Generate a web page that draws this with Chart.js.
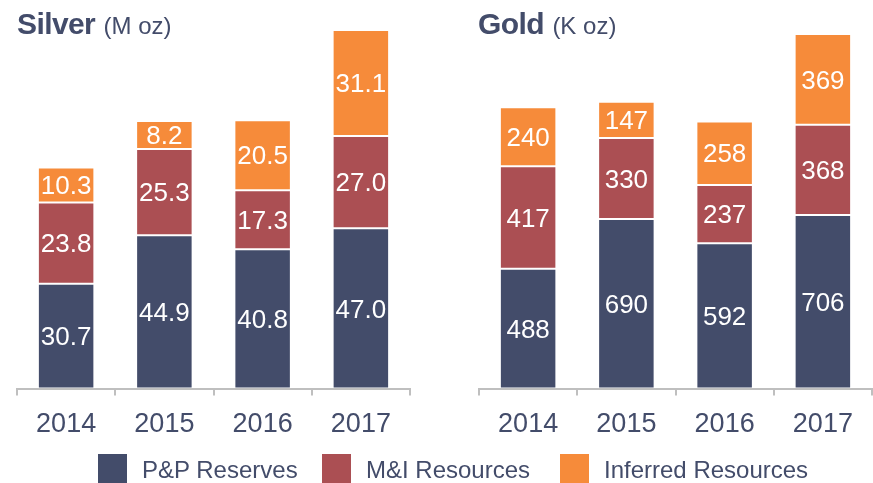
<!DOCTYPE html>
<html>
<head>
<meta charset="utf-8">
<script src="https://cdn.jsdelivr.net/npm/chart.js@4"></script>
<style>
    body { margin: 0; width: 873px; height: 483px; background: #fff; position: relative; overflow: hidden; font-family: "Liberation Sans", Arial, sans-serif; color: #434C6A; }
    .box { position: absolute; top: 0; height: 462px; }
    .title { position: absolute; top: 7px; white-space: nowrap; }
    .title b { font-size: 30px; letter-spacing: -0.6px; }
    .title span { font-size: 24px; margin-left: 4px; }
    .leg { position: absolute; top: 454px; height: 29px; font-size: 24px; line-height: 29px; white-space: nowrap; }
    .leg i { position: absolute; left: 0; top: 0; width: 29px; height: 29px; }
    .leg span { position: absolute; left: 44px; top: 1px; }
</style>
</head>
<body>
<div class="box" style="left:0;width:430px"><canvas id="SilverChart"></canvas></div>
<div class="box" style="left:440px;width:433px"><canvas id="GoldChart"></canvas></div>
<div class="title" style="left:17px"><b>Silver</b> <span>(M oz)</span></div>
<div class="title" style="left:478px"><b>Gold</b> <span>(K oz)</span></div>
<div id="Legend"></div>

<script>
const years = ["2014", "2015", "2016", "2017"];
const seriesNames = ["P&P Reserves", "M&I Resources", "Inferred Resources"];
const seriesColors = ["#434C6A", "#AB4F53", "#F68B3A"];

const silverPP = [30.7, 44.9, 40.8, 47.0];
const silverMI = [23.8, 25.3, 17.3, 27.0];
const silverInf = [10.3, 8.2, 20.5, 31.1];

const goldPP = [488, 690, 592, 706];
const goldMI = [417, 330, 237, 368];
const goldInf = [240, 147, 258, 369];

const textColor = "#434C6A";
const fontFamily = "'Liberation Sans', Arial, sans-serif";

// white numbers in the middle of each segment
const valueLabels = {
    id: 'valueLabels',
    afterDatasetsDraw(chart, args, opts) {
        const ctx = chart.ctx;
        ctx.save();
        ctx.fillStyle = "#fff";
        ctx.font = `26px ${fontFamily}`;
        ctx.textAlign = "center";
        ctx.textBaseline = "middle";
        chart.data.datasets.forEach((ds, i) => {
            chart.getDatasetMeta(i).data.forEach((bar, j) => {
                const v = ds.data[j];
                ctx.fillText(opts.decimals ? v.toFixed(1) : String(v), bar.x, (bar.y + bar.base) / 2 + 2);
            });
        });
        ctx.restore();
    }
};

function makeChart(id, seriesData, yMax, padLeft, padRight, decimals) {
    return new Chart(document.querySelector(id), {
        type: 'bar',
        data: {
            labels: years,
            datasets: seriesData.map((d, i) => ({
                label: seriesNames[i],
                data: d,
                backgroundColor: seriesColors[i],
                borderColor: "rgba(255,255,255,0.3)",
                borderWidth: 1,
                borderSkipped: false,
                barPercentage: 0.575,
                categoryPercentage: 1
            }))
        },
        options: {
            responsive: true,
            maintainAspectRatio: false,
            animation: false,
            layout: {
                padding: { top: 20, bottom: 8, left: padLeft, right: padRight }
            },
            plugins: {
                legend: { display: false },
                tooltip: { enabled: false },
                valueLabels: { decimals: decimals }
            },
            scales: {
                x: {
                    stacked: true,
                    grid: {
                        drawOnChartArea: false,
                        color: "#BFBFBF",
                        lineWidth: 2,
                        tickLength: 7
                    },
                    border: { color: "#BFBFBF", width: 2 },
                    ticks: {
                        color: textColor,
                        padding: 13,
                        font: { family: fontFamily, size: 27 }
                    }
                },
                y: {
                    stacked: true,
                    display: false,
                    min: 0,
                    max: yMax
                }
            }
        },
        plugins: [valueLabels]
    });
}

makeChart('#SilverChart', [silverPP, silverMI, silverInf], 108, 17, 20, true);
makeChart('#GoldChart', [goldPP, goldMI, goldInf], 1500, 39, 1, false);

// legend row
const legendX = [98, 322, 560];
const legend = document.querySelector('#Legend');
seriesNames.forEach((name, i) => {
    legend.innerHTML += `<div class="leg" style="left:${legendX[i]}px"><i style="background:${seriesColors[i]}"></i><span></span></div>`;
    legend.lastChild.querySelector('span').textContent = name;
});
</script>
</body>
</html>
